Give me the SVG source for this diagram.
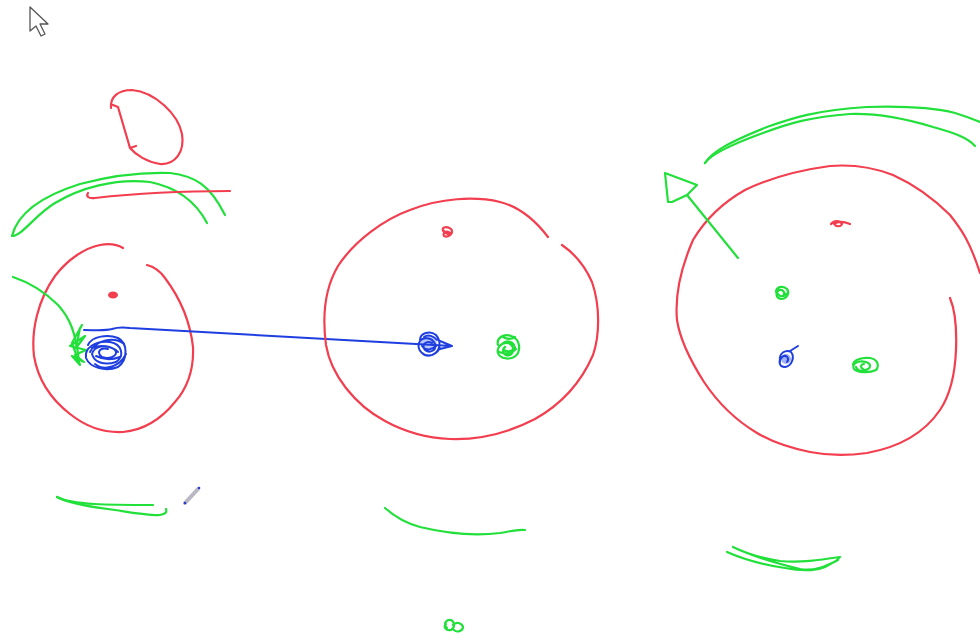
<svg xmlns="http://www.w3.org/2000/svg" width="980" height="640" viewBox="0 0 980 640">
<style>
.r{fill:none;stroke:#f23e4e;stroke-width:2.2;stroke-linecap:round;stroke-linejoin:round}
.g{fill:none;stroke:#22e03a;stroke-width:2.2;stroke-linecap:round;stroke-linejoin:round}
.b{fill:none;stroke:#1e3ee0;stroke-width:2;stroke-linecap:round;stroke-linejoin:round}
</style>
<rect width="980" height="640" fill="#ffffff"/>
<!-- cursor -->
<path d="M30,7 L30,31 L36,26 L41,36 L45,34 L40,24 L48,24 Z" fill="#ffffff" stroke="#555" stroke-width="1.3" stroke-linejoin="round"/>
<!-- top-left red loop -->
<path class="r" d="M111,108 C110,97 118,90 132,90 C155,92 178,114 182,134 C185,152 175,165 160,164 C147,162 136,155 130,148 L136,146 M130,148 L118,107 L113,105"/>
<!-- top-left green arc -->
<path class="g" d="M12,236 C18,212 45,195 80,184 C110,176 140,172 170,173 C195,176 210,185 225,215"/>
<path class="g" d="M12,236 C22,236 35,215 55,203 C80,188 115,178 150,182 C175,187 195,200 207,223"/>
<!-- red line -->
<path class="r" d="M88,193 C86,196 88,199 95,198 C130,194 180,191 230,191"/>
<!-- left red circle -->
<path class="r" d="M147,265 C155,267 160,271 165,278 C180,298 190,320 193,347 C194,370 188,387 175,402 C162,418 145,430 123,432 C103,433 85,426 70,414 C52,400 38,380 34,356 C31,330 38,300 55,276 C68,259 85,248 100,245 C110,243 118,245 123,248"/>
<ellipse cx="113" cy="295" rx="5" ry="3.5" fill="#f23e4e"/>
<!-- left green arrow -->
<path class="g" d="M13,277 C28,282 45,292 58,305 C70,318 76,333 79,362"/>
<path class="g" d="M80,328 L76,348 L85,336 L70,346 L86,350 L75,355 L84,362 L72,356 L80,365 L72,343 L82,325"/>
<!-- left blue scribble -->
<path class="b" d="M88,345 C92,336 108,334 118,338 C128,343 128,360 118,367 C106,372 90,368 86,358 C84,348 96,340 110,342 C122,344 125,356 116,362 C104,366 94,362 92,354 C94,346 106,344 114,349 C120,354 112,360 102,357 C96,352 100,347 108,349 M90,352 C96,340 114,336 124,344 M95,364 C105,372 120,366 126,354 M92,348 C100,344 112,346 118,352 M96,356 C104,360 112,360 120,357"/>
<!-- blue connector -->
<path class="b" d="M84,330 C95,330 105,331 112,329 C118,327 122,327 130,328 L452,346 L440,341 M452,346 L440,349"/>
<!-- middle red circle -->
<path class="r" d="M548,237 C535,220 520,207 500,202 C475,196 440,198 410,210 C385,219 355,240 338,266 C325,288 322,315 326,345 C331,375 355,405 385,421 C405,432 425,438 450,439 C480,440 510,432 535,419 C560,405 580,385 593,355 C600,335 600,305 592,282 C585,266 575,254 562,245"/>
<path class="r" d="M444,232 C440,228 446,225 451,229 C454,233 449,238 444,236 C442,233 447,230 450,233 M443,230 C446,234 450,236 452,232"/>
<!-- middle blue scribble -->
<path class="b" d="M420,340 C420,333 430,330 436,335 C442,342 440,352 432,355 C423,357 417,350 419,343 C422,336 432,337 435,344 C437,350 430,354 425,350 C421,345 426,340 432,343 M423,354 C428,358 436,355 440,348 M422,346 C426,351 432,350 436,346 M424,337 C428,334 434,336 437,340"/>
<ellipse cx="429" cy="344" rx="8" ry="8" fill="#1e3ee0" fill-opacity="0.3"/>
<!-- middle green scribble -->
<path class="g" d="M498,345 C496,338 504,333 511,336 C518,338 521,346 518,353 C514,360 504,360 499,355 C495,349 501,342 508,343 C514,345 515,352 510,355 C504,357 501,350 505,347 M503,337 C508,340 512,339 515,337 M499,352 C505,354 510,355 516,349 M502,344 C506,340 512,341 514,345 M504,350 C508,353 513,351 515,347"/>
<!-- right red circle -->
<path class="r" d="M950,298 C955,310 957,325 956,350 C955,375 950,395 940,410 C925,432 900,447 867,453 C845,456 825,455 810,452 C790,448 772,442 757,433 C737,421 718,403 704,382 C690,360 680,340 677,320 C675,298 680,270 693,240 C705,220 722,203 745,190 C770,178 800,170 830,166 C855,164 875,168 893,175 C915,185 935,200 950,215 C962,230 970,242 980,273"/>
<path class="r" d="M831,224 C834,220 840,220 842,224 C841,227 836,227 834,224 C838,221 845,222 850,224"/>
<!-- right dots -->
<path class="g" d="M776,292 C776,287 783,285 787,289 C790,293 787,299 781,299 C776,298 775,293 779,290 C783,289 786,293 783,296 M778,294 C780,297 784,297 786,294"/>
<path class="b" d="M780,360 C779,353 786,349 791,352 C795,357 792,366 785,367 C779,367 778,361 782,357 C786,354 790,358 787,362 M790,351 L798,346"/>
<ellipse cx="786" cy="359" rx="5" ry="5" fill="#1e3ee0" fill-opacity="0.4"/>
<path class="g" d="M853,365 C853,360 862,357 870,358 C877,359 880,365 876,370 C870,373 858,373 854,369 C851,364 858,360 866,362 C872,364 871,369 865,370 C860,369 860,364 864,364 M856,367 C858,371 862,372 866,371"/>
<!-- right green arrow -->
<path class="g" d="M738,258 L687,195"/>
<path class="g" d="M668,202 L665,173 L697,185 L687,195 L672,202 Z"/>
<!-- right green arc -->
<path class="g" d="M705,163 C712,152 727,143 767,127 C790,119 815,110 867,107 C900,106 935,108 955,113 C968,117 975,120 980,122"/>
<path class="g" d="M705,163 C710,155 730,145 763,133 C790,123 810,117 850,114 C880,113 910,120 933,127 C955,133 968,138 975,146"/>
<!-- bottom strokes -->
<path class="g" d="M57,497 C72,505 110,505 153,505"/>
<path class="g" d="M57,497 C68,503 90,507 115,510 C135,513 152,516 160,515 C166,514 167,512 166,509"/>
<path d="M185,503 L198,489" stroke="#b8b8c4" stroke-width="4" stroke-linecap="round" fill="none"/>
<circle cx="185" cy="503" r="1.3" fill="#2a3ad0"/>
<circle cx="199" cy="488" r="1.3" fill="#2a3ad0"/>
<path class="g" d="M385,508 C395,517 405,523 420,527 C445,533 475,536 500,533 C512,531 518,529 525,530"/>
<path class="g" d="M447,628 C443,624 446,619 451,620 C455,622 455,628 451,630 C446,631 443,627 446,624 M453,625 C456,621 462,623 463,627 C463,631 457,633 454,630"/>
<path class="g" d="M727,552 C745,560 765,565 785,568 C800,571 815,571 825,567 C833,563 838,560 840,557 C820,560 800,563 780,561 C760,558 745,553 733,547 M733,547 C750,555 775,563 800,569 C815,572 828,565 838,560"/>
</svg>
